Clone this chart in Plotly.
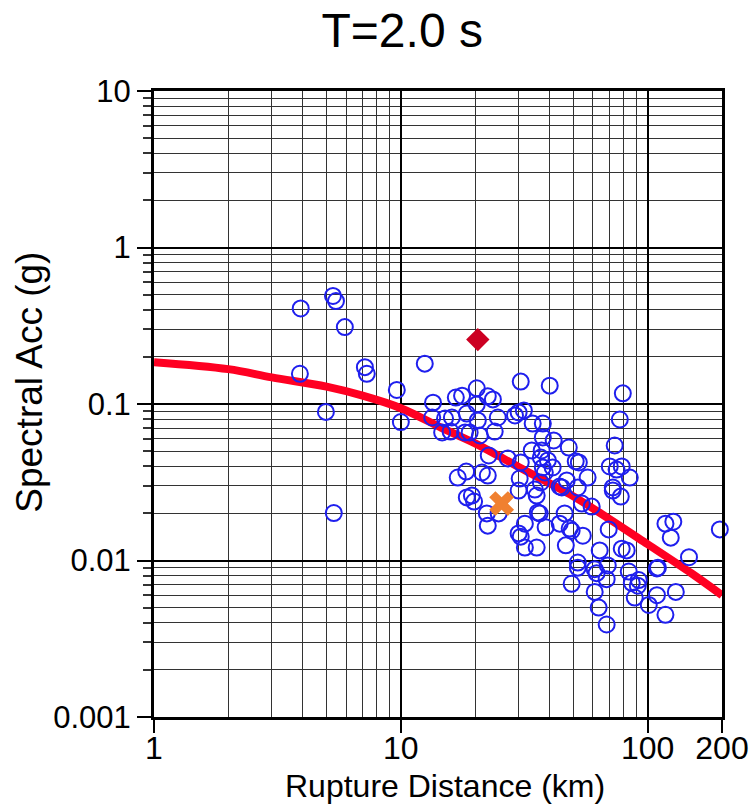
import plotly.graph_objects as go

# Recorded ground motions (rupture distance km, spectral acc g)
rec_dist = [3.93, 5.31, 5.46, 5.93, 3.9, 4.97, 5.35, 7.15, 7.28, 9.63, 10.0, 12.5,
            30.6, 40.1, 13.5, 16.7, 17.7, 20.3, 22.5, 23.6, 20.3, 13.4, 15.1, 16.1,
            18.5, 20.5, 24.7, 29.0, 30.0, 31.5, 34.2, 37.6, 14.7, 15.9, 18.2, 19.0,
            20.9, 24.0, 37.6, 33.9, 37.2, 22.7, 27.1, 30.6,
            17.0, 18.4, 21.3, 22.5, 30.3, 30.0, 34.9, 35.5, 36.9, 38.3, 36.9, 39.4,
            37.6, 41.2, 18.5, 19.4, 19.8, 22.3, 24.9, 22.5, 35.9, 31.8, 30.0, 30.6,
            31.8, 35.5, 38.6,
            79.3, 77.1, 41.6, 47.9, 73.5, 51.1, 52.6, 70.2, 74.8, 78.5, 84.6, 57.1,
            47.0, 44.0, 72.2,
            44.9, 52.1, 72.2, 77.8, 54.1, 59.3, 36.5, 46.1, 44.0, 48.3, 49.2, 54.6,
            69.5, 46.6, 63.9, 78.5, 82.2, 118, 127, 124, 52.1, 52.1, 61.0, 62.1,
            68.9, 68.2, 49.2, 83.8, 86.2, 92.0, 91.2, 110, 109, 61.0, 88.6, 109,
            101, 130, 63.3, 118, 68.2, 147, 196]
rec_sa = [0.408, 0.49, 0.455, 0.31, 0.156, 0.089, 0.0201, 0.172, 0.156, 0.123, 0.0767, 0.181,
          0.139, 0.131, 0.102, 0.110, 0.113, 0.126, 0.112, 0.107, 0.0993, 0.082, 0.0808, 0.082,
          0.0869, 0.0785, 0.082, 0.0845, 0.0883, 0.0909, 0.075, 0.075, 0.0658, 0.0667, 0.0658, 0.0658,
          0.0629, 0.0667, 0.0611, 0.0505, 0.0505, 0.0469, 0.0449, 0.0423,
          0.0339, 0.037, 0.0365, 0.0349, 0.0334, 0.028, 0.0284, 0.026, 0.0315, 0.0365, 0.0455, 0.0436,
          0.0393, 0.0393, 0.0253, 0.026, 0.0238, 0.020, 0.020, 0.0167, 0.0203, 0.0172, 0.0149, 0.0142,
          0.0121, 0.0121, 0.0163,
          0.117, 0.0796, 0.0585, 0.0527, 0.0543, 0.043, 0.0423, 0.0399, 0.0381, 0.0399, 0.0339, 0.0339,
          0.0325, 0.0297, 0.0293,
          0.0293, 0.0293, 0.028, 0.0256, 0.0231, 0.0221, 0.020, 0.020, 0.0172, 0.016, 0.0155, 0.0144,
          0.0158, 0.0125, 0.0116, 0.0119, 0.0116, 0.0172, 0.0177, 0.014, 0.0097, 0.009, 0.0088, 0.0083,
          0.0093, 0.0076, 0.0071, 0.0085, 0.0072, 0.0075, 0.0069, 0.009, 0.0089, 0.0063, 0.0058, 0.006,
          0.0052, 0.0063, 0.005, 0.0045, 0.0039, 0.0105, 0.0158]

# Median model prediction
model_dist = [1, 2, 3, 5, 7, 10, 15, 20, 30, 50, 70, 100, 150, 200]
model_sa = [0.185, 0.167, 0.148, 0.129, 0.113, 0.094, 0.069, 0.056, 0.0396, 0.0257,
            0.0184, 0.0127, 0.0083, 0.0060]

# Highlighted records
diamond_dist = [20.5]
diamond_sa = [0.258]
cross_dist = [25.6]
cross_sa = [0.0231]

x_tickvals = [1, 10, 100, 200]
x_ticktext = ["1", "10", "100", "200"]
y_tickvals = [0.001, 0.01, 0.1, 1, 10]
y_ticktext = ["0.001", "0.01", "0.1", "1", "10"]

FONT = "Liberation Sans, Arial, Helvetica, sans-serif"

x_minor = [k * 10 ** e for e in range(0, 3) for k in range(2, 10) if k * 10 ** e < 200]
y_minor = [k * 10.0 ** e for e in range(-3, 1) for k in range(2, 10)]

fig = go.Figure()
fig.add_trace(go.Scatter(
    x=model_dist, y=model_sa, mode="lines",
    line=dict(color="#ff0022", width=8, shape="spline"),
    hoverinfo="skip", showlegend=False))
fig.add_trace(go.Scatter(
    x=rec_dist, y=rec_sa, mode="markers",
    marker=dict(symbol="circle-open", size=16, color="#1f1fee", line=dict(width=2, color="#1f1fee")),
    cliponaxis=False, showlegend=False))
fig.add_trace(go.Scatter(
    x=diamond_dist, y=diamond_sa, mode="markers",
    marker=dict(symbol="diamond", size=18, color="#cc0022"),
    showlegend=False))
fig.add_trace(go.Scatter(
    x=cross_dist, y=cross_sa, mode="markers",
    marker=dict(symbol="x", size=22, color="#f08030", line=dict(width=0)),
    showlegend=False))

fig.update_layout(
    width=751, height=808,
    margin=dict(l=154, r=29, t=91, b=91, autoexpand=False),
    paper_bgcolor="white", plot_bgcolor="white",
    font=dict(family=FONT, color="black"),
    showlegend=False,
    title=dict(text="T=2.0 s", x=0.437, xref="paper", xanchor="center",
               y=1 - 30 / 808, yref="container", yanchor="middle",
               font=dict(family=FONT, size=48, color="black")),
    annotations=[
        dict(text="Rupture Distance (km)", x=0.512, y=0, xref="paper", yref="paper",
             xanchor="center", yanchor="middle", yshift=-69, showarrow=False,
             font=dict(family=FONT, size=32, color="black")),
        dict(text="Spectral Acc (g)", x=0, y=0.534, xref="paper", yref="paper",
             xanchor="center", yanchor="middle", xshift=-124, textangle=-90, showarrow=False,
             font=dict(family=FONT, size=37, color="black")),
    ],
)

fig.update_xaxes(
    type="log", range=[0, 2.30103], automargin=False,
    tickmode="array", tickvals=x_tickvals, ticktext=x_ticktext,
    ticks="outside", ticklen=13, tickwidth=1.5, tickcolor="black",
    tickfont=dict(family=FONT, size=32, color="black"), ticklabelstandoff=-12,
    showgrid=True, gridcolor="black", gridwidth=2,
    showline=True, linecolor="black", linewidth=3, mirror=True,
    minor=dict(tickmode="array", tickvals=x_minor, ticks="", showgrid=True,
               gridcolor="#333333", gridwidth=1),
    zeroline=False,
)
fig.update_yaxes(
    type="log", range=[-3, 1], automargin=False,
    tickmode="array", tickvals=y_tickvals, ticktext=y_ticktext,
    ticks="outside", ticklen=14, tickwidth=1.5, tickcolor="black",
    tickfont=dict(family=FONT, size=31, color="black"), ticklabelstandoff=0,
    showgrid=True, gridcolor="black", gridwidth=2,
    showline=True, linecolor="black", linewidth=3, mirror=True,
    minor=dict(tickmode="array", tickvals=y_minor, ticks="outside", ticklen=8,
               tickcolor="#333333", showgrid=True, gridcolor="#333333", gridwidth=1),
    zeroline=False,
)

fig.write_html("out.html")
